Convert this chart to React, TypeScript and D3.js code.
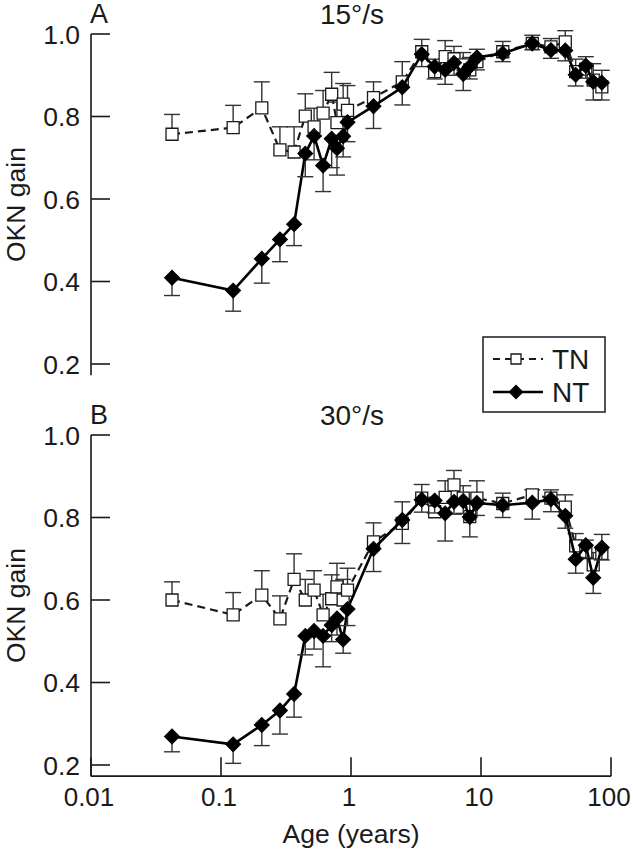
import React from "react";
import * as d3 from "d3";

const AGES = [0.042, 0.124, 0.206, 0.284, 0.365, 0.445, 0.52, 0.61, 0.71, 0.78, 0.87, 0.94, 1.49, 2.48, 3.5, 4.4, 5.3, 6.2, 7.3, 8.2, 9.3, 14.7, 24.8, 34.5, 44.5, 53.5, 64, 73, 85];

const TN_15 = [0.757, 0.773, 0.821, 0.719, 0.714, 0.801, 0.775, 0.808, 0.854, 0.785, 0.83, 0.815, 0.846, 0.884, 0.957, 0.909, 0.945, 0.94, 0.925, 0.913, 0.933, 0.957, 0.977, 0.969, 0.981, 0.909, 0.915, 0.888, 0.872];
const TN_15_ERR = [0.048, 0.054, 0.063, 0.056, 0.061, 0.054, 0.045, 0.055, 0.053, 0.05, 0.05, 0.06, 0.038, 0.049, 0.03, 0.03, 0.039, 0.03, 0.03, 0.03, 0.03, 0.025, 0.02, 0.02, 0.027, 0.03, 0.03, 0.04, 0.04];
const NT_15 = [0.409, 0.378, 0.455, 0.502, 0.539, 0.71, 0.753, 0.681, 0.746, 0.723, 0.752, 0.786, 0.825, 0.871, 0.951, 0.921, 0.913, 0.93, 0.903, 0.921, 0.943, 0.953, 0.977, 0.961, 0.96, 0.901, 0.923, 0.884, 0.882];
const NT_15_ERR = [0.043, 0.05, 0.059, 0.054, 0.052, 0.056, 0.058, 0.063, 0.07, 0.065, 0.05, 0.047, 0.054, 0.043, 0.03, 0.03, 0.035, 0.03, 0.04, 0.03, 0.03, 0.02, 0.015, 0.02, 0.025, 0.027, 0.03, 0.044, 0.042];

const TN_30 = [0.6, 0.564, 0.612, 0.554, 0.65, 0.6, 0.624, 0.564, 0.603, 0.632, 0.6, 0.624, 0.741, 0.786, 0.847, 0.814, 0.849, 0.879, 0.847, 0.802, 0.847, 0.834, 0.855, 0.847, 0.825, 0.731, 0.715, 0.685, 0.713];
const TN_30_ERR = [0.044, 0.054, 0.059, 0.056, 0.062, 0.05, 0.047, 0.05, 0.058, 0.057, 0.05, 0.053, 0.046, 0.052, 0.033, 0.035, 0.04, 0.035, 0.03, 0.035, 0.042, 0.025, 0.012, 0.02, 0.03, 0.03, 0.03, 0.03, 0.046];
const NT_30 = [0.269, 0.25, 0.297, 0.332, 0.372, 0.513, 0.525, 0.513, 0.539, 0.555, 0.504, 0.578, 0.724, 0.794, 0.843, 0.841, 0.81, 0.838, 0.84, 0.801, 0.835, 0.83, 0.836, 0.844, 0.804, 0.699, 0.733, 0.654, 0.727];
const NT_30_ERR = [0.037, 0.046, 0.05, 0.057, 0.056, 0.046, 0.044, 0.075, 0.04, 0.04, 0.033, 0.04, 0.055, 0.057, 0.03, 0.03, 0.067, 0.03, 0.03, 0.048, 0.03, 0.03, 0.04, 0.03, 0.03, 0.034, 0.03, 0.038, 0.03];

const X_TICKS = [0.01, 0.1, 1, 10, 100];
const X_TICK_LABELS = ["0.01", "0.1", "1", "10", "100"];
const Y_TICKS = [0.2, 0.4, 0.6, 0.8, 1.0];
const SERIES_NAMES = ["TN", "NT"];

const FONT = "'Liberation Sans', Arial, sans-serif";
const INK = "#1a1a1a";

const x = d3.scaleLog().domain([0.01, 100]).range([91, 611]);
const squareSym = d3.symbol().type(d3.symbolSquare).size(144);
const legendSquare = d3.symbol().type(d3.symbolSquare).size(100);
const diamondSym = d3.symbol().type(d3.symbolSquare).size(112);

type PanelProps = {
  top: number;
  letter: string;
  title: string;
  tn: number[];
  tnErr: number[];
  nt: number[];
  ntErr: number[];
  showX: boolean;
};

function Panel({ top, letter, title, tn, tnErr, nt, ntErr, showX }: PanelProps) {
  const y = d3.scaleLinear().domain([0.2, 1.0]).range([top + 330, top]);
  const yBottom = y(0.173);
  const line = d3.line<[number, number]>().x((d) => x(d[0])).y((d) => y(d[1]));
  const tnPts: [number, number][] = AGES.map((a, i) => [a, tn[i]]);
  const ntPts: [number, number][] = AGES.map((a, i) => [a, nt[i]]);
  const cap = 8;
  return (
    <g>
      <line x1={x(0.01)} x2={x(0.01)} y1={y(1.0)} y2={yBottom} stroke={INK} strokeWidth={1.6} />
      {Y_TICKS.map((t) => (
        <g key={t}>
          <line x1={x(0.01)} x2={x(0.01) + 19} y1={y(t)} y2={y(t)} stroke={INK} strokeWidth={1.6} />
          <text x={80} y={y(t)} dy="0.36em" textAnchor="end" fontSize={26.5} fontFamily={FONT} fill={INK}>
            {t.toFixed(1)}
          </text>
        </g>
      ))}
      <text
        transform={`translate(25,${(y(1.0) + yBottom) / 2}) rotate(-90)`}
        textAnchor="middle"
        fontSize={26.5}
        fontFamily={FONT}
        fill={INK}
      >
        OKN gain
      </text>
      {showX && (
        <g>
          <line x1={x(0.01)} x2={x(100)} y1={yBottom} y2={yBottom} stroke={INK} strokeWidth={1.6} />
          {X_TICKS.map((t, i) => (
            <g key={t}>
              <line x1={x(t)} x2={x(t)} y1={yBottom} y2={yBottom - 19} stroke={INK} strokeWidth={1.6} />
              <text x={x(t) - 2} y={yBottom + 30} textAnchor="middle" fontSize={26} fontFamily={FONT} fill={INK}>
                {X_TICK_LABELS[i]}
              </text>
            </g>
          ))}
          <text x={(x(0.01) + x(100)) / 2} y={yBottom + 67} textAnchor="middle" fontSize={26.5} fontFamily={FONT} fill={INK}>
            Age (years)
          </text>
        </g>
      )}
      <text x={90} y={top - 11} fontSize={27} fontFamily={FONT} fill={INK}>
        {letter}
      </text>
      <text x={352} y={top - 10} textAnchor="middle" fontSize={28} fontFamily={FONT} fill={INK}>
        {title}
      </text>

      <path d={line(tnPts) || ""} fill="none" stroke={INK} strokeWidth={2.2} strokeDasharray="8,5" />
      {tnPts.map(([a, v], i) => (
        <g key={"tne" + i} stroke="#333" strokeWidth={1.4}>
          <line x1={x(a)} x2={x(a)} y1={y(v)} y2={y(v + tnErr[i])} />
          <line x1={x(a) - cap} x2={x(a) + cap} y1={y(v + tnErr[i])} y2={y(v + tnErr[i])} />
        </g>
      ))}
      {tnPts.map(([a, v], i) => (
        <path
          key={"tns" + i}
          d={squareSym() || ""}
          transform={`translate(${x(a)},${y(v)})`}
          fill="#fff"
          stroke={INK}
          strokeWidth={1.3}
        />
      ))}

      <path d={line(ntPts) || ""} fill="none" stroke="#000" strokeWidth={2.6} />
      {ntPts.map(([a, v], i) => (
        <g key={"nte" + i} stroke="#333" strokeWidth={1.4}>
          <line x1={x(a)} x2={x(a)} y1={y(v)} y2={y(v - ntErr[i])} />
          <line x1={x(a) - cap} x2={x(a) + cap} y1={y(v - ntErr[i])} y2={y(v - ntErr[i])} />
        </g>
      ))}
      {ntPts.map(([a, v], i) => (
        <path
          key={"ntd" + i}
          d={diamondSym() || ""}
          transform={`translate(${x(a)},${y(v)}) rotate(45)`}
          fill="#000"
          stroke="#000"
          strokeWidth={1}
        />
      ))}
    </g>
  );
}

function Legend() {
  const rows = [359, 392];
  return (
    <g>
      <rect x={483} y={337} width={122} height={75} fill="#fff" stroke={INK} strokeWidth={1.5} />
      <line x1={493} x2={543} y1={rows[0]} y2={rows[0]} stroke={INK} strokeWidth={2.2} strokeDasharray="7,5" />
      <path d={legendSquare() || ""} transform={`translate(516,${rows[0]})`} fill="#fff" stroke={INK} strokeWidth={1.3} />
      <text x={552} y={rows[0]} dy="0.36em" fontSize={28} fontFamily={FONT} fill={INK}>
        {SERIES_NAMES[0]}
      </text>
      <line x1={493} x2={543} y1={rows[1]} y2={rows[1]} stroke="#000" strokeWidth={2.6} />
      <path d={diamondSym() || ""} transform={`translate(516,${rows[1]}) rotate(45)`} fill="#000" />
      <text x={552} y={rows[1]} dy="0.36em" fontSize={28} fontFamily={FONT} fill={INK}>
        {SERIES_NAMES[1]}
      </text>
    </g>
  );
}

export default function App() {
  return (
    <svg
      width={633}
      height={853}
      viewBox="0 0 633 853"
      style={{ position: "absolute", left: 0, top: 0, background: "#fff" }}
    >
      <rect width={633} height={853} fill="#fff" />
      <Panel top={34} letter="A" title="15°/s" tn={TN_15} tnErr={TN_15_ERR} nt={NT_15} ntErr={NT_15_ERR} showX={false} />
      <Panel top={435} letter="B" title="30°/s" tn={TN_30} tnErr={TN_30_ERR} nt={NT_30} ntErr={NT_30_ERR} showX={true} />
      <Legend />
    </svg>
  );
}
